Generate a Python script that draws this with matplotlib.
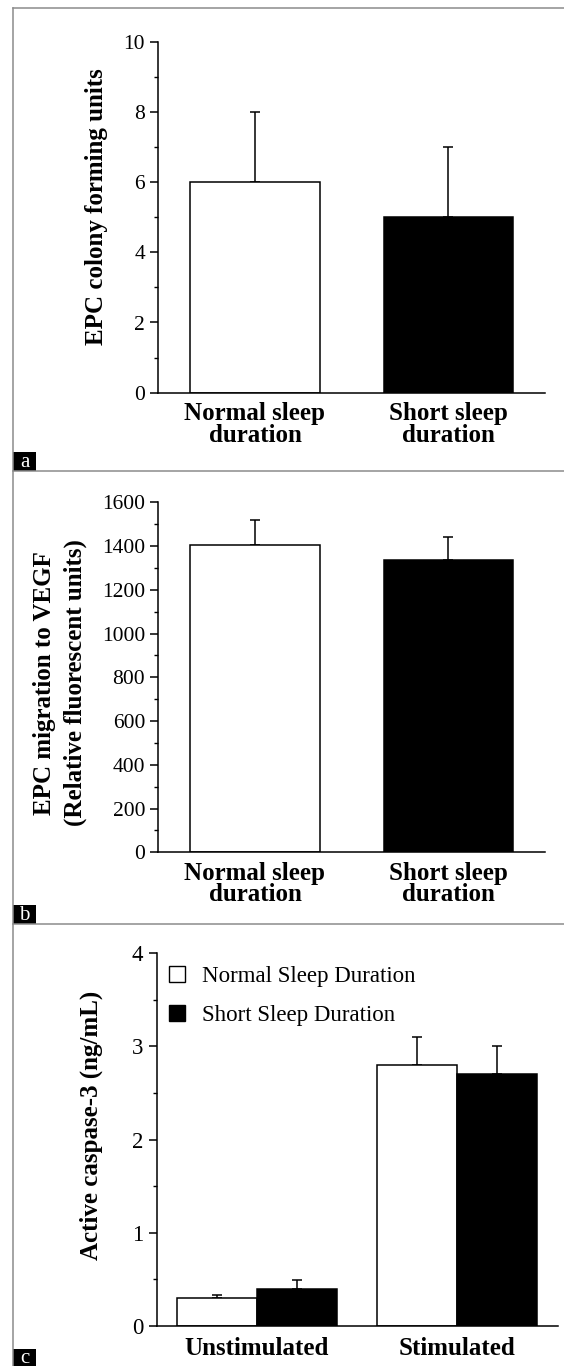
import matplotlib
matplotlib.use("Agg")
import matplotlib.pyplot as plt
from matplotlib.lines import Line2D
from matplotlib.patches import Rectangle, Patch
from matplotlib.ticker import MultipleLocator

# ---------------- data ----------------
groups_ab = ["Normal sleep\nduration", "Short sleep\nduration"]
colony_vals = [6.0, 5.0]
colony_err = [2.0, 2.0]
migration_vals = [1405, 1335]
migration_err = [115, 105]

groups_c = ["Unstimulated", "Stimulated"]
series_c = ["Normal Sleep Duration", "Short Sleep Duration"]
caspase_normal = [0.30, 2.80]
caspase_normal_err = [0.03, 0.30]
caspase_short = [0.40, 2.70]
caspase_short_err = [0.09, 0.30]

# ---------------- figure ----------------
W, H = 564, 1366
DPI = 100
plt.rcParams['font.family'] = ['Liberation Serif', 'DejaVu Serif']
fig = plt.figure(figsize=(W / DPI, H / DPI), dpi=DPI)


def rect(l, r, t, b):
    return [l / W, 1 - b / H, (r - l) / W, (b - t) / H]


def style_axes(ax, ymax, major, minor, ticksize):
    for s in ["top", "right"]:
        ax.spines[s].set_visible(False)
    for s in ["left", "bottom"]:
        ax.spines[s].set_linewidth(1.1)
    ax.set_ylim(0, ymax)
    ax.set_xlim(0.5, 2.5)
    ax.yaxis.set_major_locator(MultipleLocator(major))
    ax.yaxis.set_minor_locator(MultipleLocator(minor))
    ax.tick_params(axis="y", which="major", length=6, width=1.1, pad=3.5,
                   labelsize=ticksize, direction="out")
    ax.tick_params(axis="y", which="minor", length=3, width=1.0, direction="out")
    ax.tick_params(axis="x", length=0, pad=7)


xpos = [1, 2]
bw = 0.67
err_kw = dict(fmt="none", ecolor="black", elinewidth=1.1, capsize=3.8, capthick=1.1)

# ---- panel a ----
axa = fig.add_axes(rect(158.3, 545, 41.7, 392.7))
axa.bar(xpos, colony_vals, width=bw, color=["white", "black"], edgecolor="black",
        linewidth=1.1, zorder=2)
axa.errorbar(xpos, colony_vals, yerr=[[0, 0], colony_err], zorder=1, **err_kw)
style_axes(axa, 10, 2, 1, 15.5)
axa.set_xticks(xpos)
axa.set_xticklabels(groups_ab, fontsize=18, fontweight="bold", linespacing=0.9)
axa.set_ylabel("EPC colony forming units", fontsize=18, fontweight="bold", va="center")
axa.yaxis.set_label_coords(-0.161, 0.53)

# ---- panel b ----
axb = fig.add_axes(rect(158.3, 545, 502.3, 852.3))
axb.bar(xpos, migration_vals, width=bw, color=["white", "black"], edgecolor="black",
        linewidth=1.1, zorder=2)
axb.errorbar(xpos, migration_vals, yerr=[[0, 0], migration_err], zorder=1, **err_kw)
style_axes(axb, 1600, 200, 100, 15.5)
axb.set_xticks(xpos)
axb.set_xticklabels(groups_ab, fontsize=18, fontweight="bold", linespacing=0.9)
axb.set_ylabel("EPC migration to VEGF\n(Relative fluorescent units)", fontsize=18,
               fontweight="bold", va="center", linespacing=1.4)
axb.yaxis.set_label_coords(-0.254, 0.484)

# ---- panel c ----
axc = fig.add_axes(rect(156.5, 557.5, 953.3, 1326))
bwc = 0.4
xl = [x - bwc / 2 for x in xpos]
xr = [x + bwc / 2 for x in xpos]
axc.bar(xl, caspase_normal, width=bwc, color="white", edgecolor="black",
        linewidth=1.1, zorder=2, label=series_c[0])
axc.bar(xr, caspase_short, width=bwc, color="black", edgecolor="black",
        linewidth=1.1, zorder=2, label=series_c[1])
axc.errorbar(xl, caspase_normal, yerr=[[0, 0], caspase_normal_err], zorder=1, **err_kw)
axc.errorbar(xr, caspase_short, yerr=[[0, 0], caspase_short_err], zorder=1, **err_kw)
style_axes(axc, 4, 1, 0.5, 16.5)
axc.set_xticks(xpos)
axc.set_xticklabels(groups_c, fontsize=18, fontweight="bold")
axc.tick_params(axis="x", pad=8)
axc.set_ylabel("Active caspase-3 (ng/mL)", fontsize=18, fontweight="bold", va="center")
axc.yaxis.set_label_coords(-0.1616, 0.537)
handles = [Patch(facecolor="white", edgecolor="black", linewidth=1.0),
           Patch(facecolor="black", edgecolor="black", linewidth=1.0)]
axc.legend(handles, series_c, loc="upper left", bbox_to_anchor=(0.031, 0.967),
           frameon=False, fontsize=16.5, handlelength=0.7, handleheight=0.7,
           handletextpad=0.75, labelspacing=0.78, borderpad=0, borderaxespad=0)

# ---------------- frame lines & panel letters ----------------
gray = "#8c8c8c"


def hline(y, x0=13, x1=564):
    fig.add_artist(Line2D([x0 / W, x1 / W], [1 - y / H, 1 - y / H], color=gray, lw=1.1))


hline(8)
hline(470.7)
hline(924)
fig.add_artist(Line2D([13 / W, 13 / W], [1 - 8 / H, 0], color=gray, lw=1.1))


def letter(ch, top, bottom):
    fig.add_artist(Rectangle((13 / W, 1 - bottom / H), 23 / W, (bottom - top) / H,
                             facecolor="black", edgecolor="none"))
    fig.text(24.5 / W, 1 - (top + bottom) / 2 / H - 1 / H, ch, color="white", fontsize=15,
             ha="center", va="center")


letter("a", 452.3, 470.7)
letter("b", 905, 924)
letter("c", 1349, 1366)

fig.savefig("out.png", dpi=DPI)
